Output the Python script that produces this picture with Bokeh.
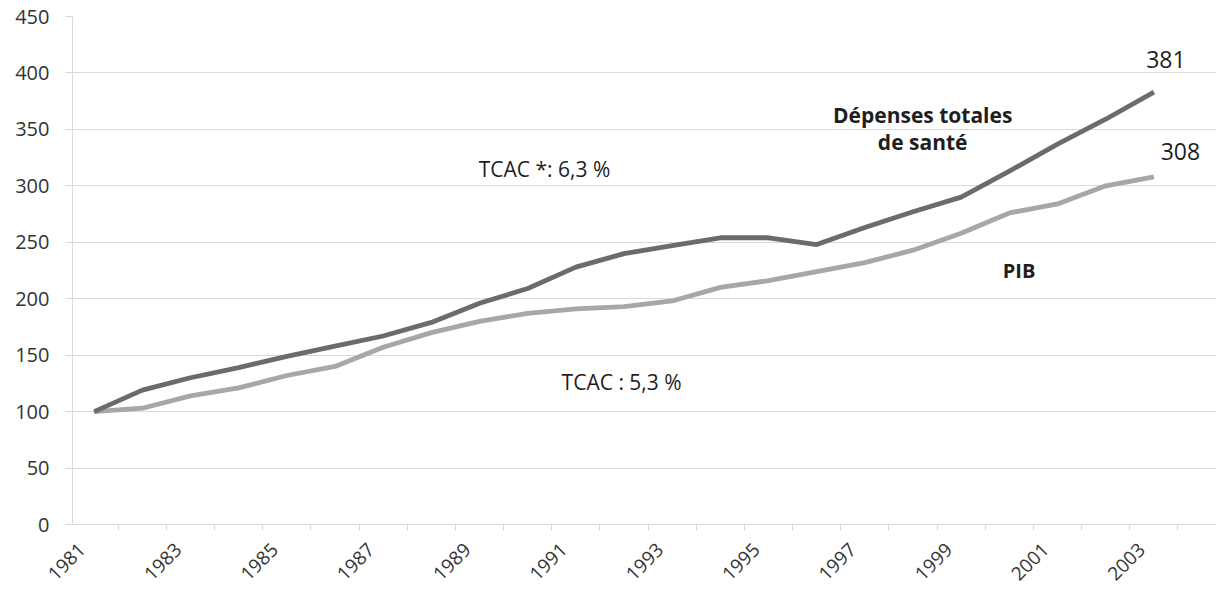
import math
from bokeh.plotting import figure
from bokeh.models import FixedTicker, Range1d, Label, ColumnDataSource, CustomJSTickFormatter
from bokeh.embed import file_html
from bokeh.resources import INLINE

# ---- data ----
years = list(range(1981, 2004))
depenses = [100, 119, 130, 139, 149, 158, 167, 179, 196, 209, 228, 240, 247,
            254, 254, 248, 263, 277, 290, 313, 337, 359, 383]
pib = [100, 103, 114, 121, 132, 140, 157, 170, 180, 187, 191, 193, 198,
       210, 216, 224, 232, 243, 258, 276, 284, 300, 308]
y_ticks = [0, 50, 100, 150, 200, 250, 300, 350, 400, 450]
x_label_years = [1981, 1983, 1985, 1987, 1989, 1991, 1993, 1995, 1997, 1999, 2001, 2003]
end_labels = ["381", "308"]
series_names = ["Dépenses totales", "de santé", "PIB"]
tcac_labels = ["TCAC *: 6,3 %", "TCAC : 5,3 %"]

GRID = "#d9d9d9"
DARK = "#6b6b6b"
LIGHT = "#a7a7a9"
TXT = "#1e1e1e"
FONT = "Open Sans"
LABEL_SHIFT = 0.25

p = figure(width=1216, height=590, output_backend="svg", toolbar_location=None,
           x_range=Range1d(1980.55, 2004.3), y_range=Range1d(0, 450),
           min_border_left=72, min_border_right=0, min_border_top=16,
           min_border_bottom=66)
p.outline_line_color = None
p.background_fill_color = "white"
p.border_fill_color = "white"

src = ColumnDataSource(dict(year=years, dep=depenses, pib=pib))
p.line("year", "pib", source=src, line_color=LIGHT, line_width=4.8, line_join="round")
p.line("year", "dep", source=src, line_color=DARK, line_width=4.8, line_join="round")

# y axis
p.yaxis.ticker = FixedTicker(ticks=y_ticks)
p.yaxis.axis_line_color = GRID
p.yaxis.major_tick_line_color = GRID
p.yaxis.major_tick_out = 7
p.yaxis.major_tick_in = 0
p.yaxis.minor_tick_line_color = None
p.yaxis.major_label_text_font = FONT
p.yaxis.major_label_text_font_size = "20px"
p.yaxis.major_label_text_color = "#333333"
p.yaxis.major_label_standoff = 16

# x axis
p.xaxis.ticker = FixedTicker(ticks=[y - LABEL_SHIFT for y in x_label_years],
                             minor_ticks=[y - 0.5 for y in years] + [years[-1] + 0.5])
p.xaxis.formatter = CustomJSTickFormatter(
    code="return String(Math.round(tick + %s));" % LABEL_SHIFT)
p.xaxis.axis_line_color = GRID
p.xaxis.major_tick_line_color = None
p.xaxis.major_tick_out = 0
p.xaxis.major_tick_in = 0
p.xaxis.minor_tick_line_color = GRID
p.xaxis.minor_tick_out = 6
p.xaxis.minor_tick_in = 0
p.xaxis.major_label_orientation = math.pi / 4
p.xaxis.major_label_text_font = FONT
p.xaxis.major_label_text_font_size = "19px"
p.xaxis.major_label_text_color = "#333333"
p.xaxis.major_label_standoff = 16

p.xgrid.grid_line_color = None
p.ygrid.grid_line_color = GRID
p.ygrid.grid_line_width = 1
p.ygrid.ticker = FixedTicker(ticks=y_ticks)


def add_label(x, y, text, size="22px", style="normal"):
    p.add_layout(Label(x=x, y=y, text=text, text_align="center",
                       text_baseline="middle", text_font=FONT,
                       text_font_size=size, text_font_style=style,
                       text_color=TXT))


add_label(2003.25, 412, end_labels[0], "23px")
add_label(2003.55, 330, end_labels[1], "23px")
add_label(1998.2, 363, series_names[0], "21px", "bold")
add_label(1998.2, 339, series_names[1], "21px", "bold")
add_label(2000.2, 225, series_names[2], "20px", "bold")
add_label(1990.35, 315, tcac_labels[0], "21px")
add_label(1991.95, 126, tcac_labels[1], "21px")

open("out.html", "w").write(file_html(p, INLINE))
